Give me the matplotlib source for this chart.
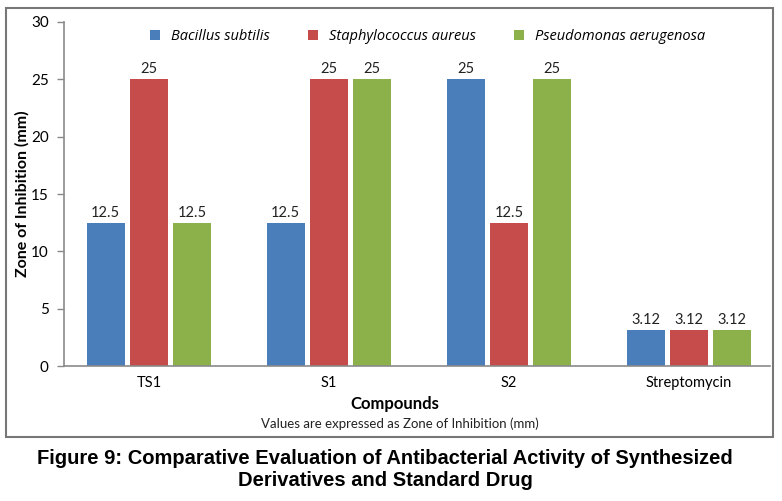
import matplotlib
matplotlib.use("Agg")
import matplotlib.pyplot as plt
import numpy as np
from matplotlib.patches import Rectangle

categories = ["TS1", "S1", "S2", "Streptomycin"]
series_names = ["Bacillus subtilis", "Staphylococcus aureus", "Pseudomonas aerugenosa"]
bacillus = [12.5, 12.5, 25, 3.12]
staph = [25, 25, 12.5, 3.12]
pseudo = [12.5, 25, 25, 3.12]
colors = ["#4A7EBB", "#C64B4B", "#8CB14A"]
yticks = [0, 5, 10, 15, 20, 25, 30]

W, H = 782, 501
fig = plt.figure(figsize=(W / 100, H / 100), dpi=100)
ax = fig.add_axes([64 / W, 1 - 366 / H, (770 - 64) / W, (366 - 22) / H])

font = "Lato"
x = np.arange(len(categories))
width = 0.212
offset = 0.24
for i, (vals, name, c) in enumerate(zip([bacillus, staph, pseudo], series_names, colors)):
    bars = ax.bar(x + (i - 1) * offset, vals, width, color=c, label=name)
    for b, v in zip(bars, vals):
        lab = f"{v:g}"
        ax.text(b.get_x() + b.get_width() / 2, v + 0.25, lab, ha="center", va="bottom",
                fontsize=10.5, family=font, color="#222222")

ax.set_ylim(0, 30)
ax.set_xlim(-0.472, 3.45)
ax.set_yticks(yticks)
ax.set_yticklabels([str(t) for t in yticks], family=font, fontsize=11)
ax.set_xticks(x)
ax.set_xticklabels(categories, family=font, fontsize=10.5)
ax.tick_params(axis="x", length=0, pad=7)
ax.tick_params(axis="y", length=5, width=1, color="#888888", pad=6)
for s in ["top", "right"]:
    ax.spines[s].set_visible(False)
for s in ["left", "bottom"]:
    ax.spines[s].set_color("#8a8a8a")
    ax.spines[s].set_linewidth(1.2)

fig.text(395 / W, 1 - 404 / H, "Compounds", ha="center", va="center",
         family=font, fontsize=12, fontweight="bold")
fig.text(22 / W, 1 - 194 / H, "Zone of Inhibition (mm)", ha="center", va="center",
         rotation=90, family=font, fontsize=11.5, fontweight="bold")

leg = ax.legend(loc="upper center", bbox_to_anchor=(0.515, 1.017), ncol=3, frameon=False,
                prop={"family": "Open Sans", "style": "italic", "size": 10.5},
                handlelength=0.7, handleheight=0.7, columnspacing=2.6, handletextpad=0.75)

fig.text(400 / W, 1 - 424 / H, "Values are expressed as Zone of Inhibition (mm)",
         ha="center", va="center", family=font, fontsize=9.5, color="#222222")

fig.patches.append(Rectangle((6 / W, 1 - 437 / H), (773 - 6) / W, (437 - 8) / H,
                             transform=fig.transFigure, fill=False, edgecolor="#777777",
                             linewidth=1.5))

cap_font = ["Liberation Sans Narrow", "Liberation Sans"]
fig.text(385 / W, 1 - 458 / H,
         "Figure 9: Comparative Evaluation of Antibacterial Activity of Synthesized",
         ha="center", va="center", family=cap_font, fontsize=14.5, fontweight="bold")
fig.text(385 / W, 1 - 481 / H, "Derivatives and Standard Drug",
         ha="center", va="center", family=cap_font, fontsize=14.5, fontweight="bold")

fig.savefig("out.png", dpi=100)
